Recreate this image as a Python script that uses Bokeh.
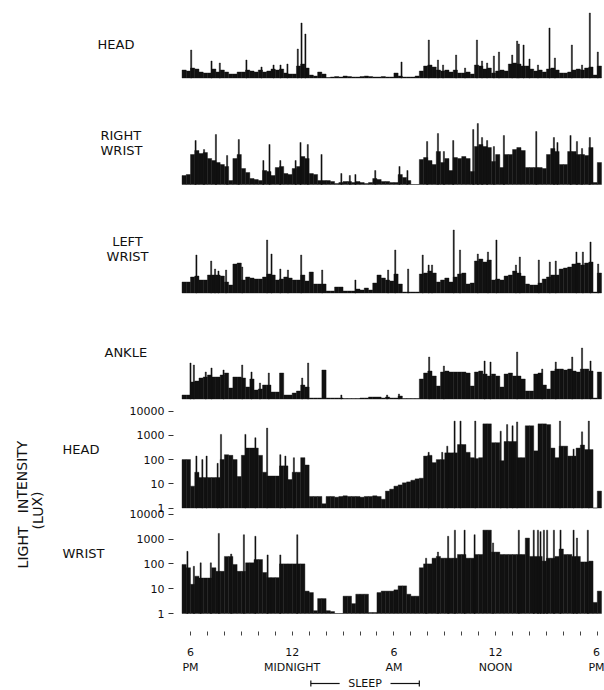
from bokeh.plotting import figure
from bokeh.models import Range1d, LogScale, LogAxis, LinearAxis, FixedTicker, NumeralTickFormatter
from bokeh.core.properties import value
from bokeh.embed import file_html
from bokeh.resources import INLINE

# ---------------- data (hours after 6 PM; 15-minute bins starting at -0.5 h) ----------------
BIN_START_H = -0.5
BIN_WIDTH_H = 0.25

# activity (arbitrary units)
head_activity = [
    8, 7, 10, 9, 6, 5, 5, 9, 6, 8,
    6, 4, 4, 6, 6, 8, 7, 6, 8, 6,
    7, 9, 8, 9, 5, 4, 4, 12, 14, 10,
    3, 2, 6, 4, 0.5, 1, 1.5, 1, 2, 1.5,
    1, 1, 1.5, 2, 1.5, 1, 1, 1.5, 1, 1,
    5, 2, 1, 1, 1, 2, 7, 12, 13, 11,
    8, 7, 8, 6, 8, 5, 5, 6, 4, 13,
    12, 9, 10, 5, 7, 8, 7, 14, 15, 14,
    12, 12, 9, 7, 8, 6, 9, 10, 8, 5,
    5, 6, 8, 9, 8, 10, 11, 3, 12]
head_spike_t = [0.04, 1.24, 1.73, 3.3, 4.19, 4.9, 5.31, 5.72, 6.33, 6.55, 6.78, 12.45, 14.06, 14.6,
                14.9, 15.67, 16.2, 16.9, 17.2, 17.5, 17.9, 18.2, 18.98, 19.27, 19.37, 19.65, 20.0,
                20.5, 21.18, 21.5, 22.5, 23.1, 23.56, 24.03]
head_spike_v = [28, 17, 15, 18, 11, 13, 13, 14, 29, 55, 44, 16, 38, 18,
                13, 23, 10, 38, 17, 15, 22, 26, 23, 37, 34, 33, 19,
                13, 50, 20, 33, 13, 65, 26]

rwrist_activity = [
    9, 10, 30, 34, 31, 32, 26, 24, 22, 20,
    18, 4, 26, 30, 16, 12, 6, 5, 4, 14,
    13, 9, 17, 18, 11, 10, 16, 18, 28, 26,
    11, 10, 4, 4, 4, 3, 1, 2, 3, 3,
    2, 3, 2, 1, 2, 6, 5, 3, 3, 2,
    2, 10, 7, 4, 0, 0, 25, 27, 24, 20,
    33, 22, 26, 14, 27, 26, 28, 26, 13, 38,
    40, 38, 37, 23, 30, 17, 30, 30, 35, 37,
    34, 17, 17, 17, 17, 16, 30, 36, 33, 20,
    20, 33, 33, 30, 30, 29, 37, 2, 22]
rwrist_spike_t = [0.3, 0.8, 1.5, 2.16, 2.85, 4.3, 4.66, 5.3, 6.2, 6.49, 6.92, 7.73, 8.9, 9.4, 9.73,
                  10.9, 12.33, 12.8, 13.96, 14.6, 14.95, 15.5, 16.68, 16.95, 17.2, 17.5, 17.9,
                  18.49, 20.4, 21.44, 21.65, 22.42, 22.8, 23.1, 23.56]
rwrist_spike_v = [44, 35, 50, 29, 45, 24, 40, 24, 24, 42, 40, 30, 11, 9, 10,
                  14, 18, 14, 43, 51, 33, 44, 55, 61, 47, 44, 38,
                  49, 53, 47, 42, 49, 43, 36, 47]

lwrist_activity = [
    11, 11, 16, 17, 13, 13, 18, 18, 18, 17,
    11, 8, 29, 30, 13, 16, 15, 14, 14, 16,
    19, 18, 13, 14, 16, 15, 13, 13, 18, 12,
    21, 9, 9, 9, 2, 2, 6, 6, 2, 2,
    2, 4, 3, 5, 3, 10, 18, 15, 13, 12,
    19, 9, 1, 1, 1, 1, 19, 20, 22, 20,
    11, 13, 15, 11, 16, 19, 20, 9, 10, 32,
    34, 31, 33, 13, 14, 13, 17, 18, 22, 20,
    17, 9, 8, 8, 10, 14, 16, 18, 18, 24,
    25, 26, 29, 30, 28, 30, 31, 1, 20]
lwrist_spike_t = [0.35, 1.22, 1.45, 1.65, 2.1, 3.05, 4.52, 4.78, 5.3, 5.75, 6.53, 7.77, 9.73,
                  11.66, 12.08, 12.84, 13.7, 14.05, 14.25, 15.53, 15.9, 16.95, 17.55, 18.05,
                  19.2, 19.43, 20.55, 21.2, 21.55, 22.77, 23.15, 23.6, 24.05]
lwrist_spike_v = [38, 32, 24, 22, 23, 26, 53, 39, 24, 23, 38, 23, 13,
                  23, 43, 24, 38, 28, 28, 63, 43, 39, 41, 53,
                  28, 36, 33, 31, 32, 41, 41, 51, 29]

ankle_activity = [
    4, 4, 17, 18, 21, 22, 24, 22, 22, 24,
    26, 11, 22, 22, 21, 12, 20, 9, 10, 14,
    14, 7, 7, 26, 4, 4, 6, 8, 14, 12,
    1, 1, 1, 29, 1, 1, 1, 1, 0.5, 0.5,
    0.5, 0.5, 1, 1, 2, 2, 2, 1, 2, 1,
    1, 3, 0.5, 0.5, 0.5, 0.5, 20, 26, 28, 23,
    13, 27, 28, 27, 27, 27, 27, 26, 13, 27,
    28, 25, 23, 25, 23, 12, 25, 26, 23, 23,
    20, 8, 8, 25, 26, 14, 10, 28, 30, 30,
    29, 30, 28, 27, 30, 30, 28, 1, 27]
ankle_spike_t = [0.0, 0.2, 0.9, 1.24, 1.95, 3.05, 3.6, 4.1, 4.62, 6.59, 6.94, 8.9, 11.6, 12.3,
                 14.08, 14.95, 17.35, 17.7, 19.27, 20.75, 21.55, 22.52, 23.1, 23.6]
ankle_spike_v = [36, 34, 27, 31, 29, 34, 27, 16, 26, 21, 36, 4, 4, 5,
                 42, 33, 38, 37, 47, 30, 37, 42, 51, 38]

# light intensity (lux)
head_lux = [
    100, 100, 8, 30, 18, 18, 18, 18, 18, 100,
    160, 150, 100, 20, 150, 300, 300, 300, 150, 30,
    21, 21, 21, 55, 55, 15, 30, 30, 120, 60,
    3, 3, 3, 1.5, 3, 3, 2.8, 3, 3.2, 3,
    3, 3, 2.8, 3, 3, 3.2, 3, 2.3, 5, 6,
    8, 9, 11, 12, 14, 16, 17, 140, 150, 75,
    100, 100, 190, 190, 190, 420, 420, 200, 120, 110,
    120, 3000, 3000, 500, 500, 90, 560, 560, 560, 120,
    120, 2500, 2500, 230, 3000, 3000, 2800, 300, 120, 360,
    360, 140, 140, 300, 400, 260, 260, 1, 5]
head_lux_spike_t = [0.35, 0.7, 0.95, 1.6, 1.8, 3.24, 3.83, 4.52, 5.3, 5.6, 6.1, 14.05, 14.85,
                    15.15, 15.58, 15.93, 16.8, 18.3, 18.68, 19.0, 19.27, 21.8, 22.6, 23.1, 23.5]
head_lux_spike_v = [140, 100, 140, 70, 1100, 1100, 800, 2000, 160, 140, 120, 200, 200,
                    360, 3900, 3900, 3900, 1500, 2800, 2500, 3600, 3900, 270, 1400, 3900]

wrist_lux = [
    95, 70, 15, 32, 27, 27, 27, 70, 50, 50,
    200, 200, 95, 50, 50, 110, 110, 150, 150, 45,
    28, 28, 28, 100, 100, 100, 100, 100, 100, 8,
    7, 1.3, 4, 4, 1.3, 1.2, 1, 1, 5, 5,
    2.5, 6, 6, 6, 1.1, 1.1, 7, 8, 8, 8,
    9, 13, 13, 6, 5, 5, 70, 100, 100, 170,
    200, 170, 170, 170, 170, 240, 240, 170, 170, 240,
    240, 2300, 2300, 300, 300, 240, 240, 240, 240, 240,
    240, 1100, 200, 200, 200, 130, 170, 170, 200, 400,
    240, 240, 200, 200, 120, 120, 130, 2.8, 8]
wrist_lux_spike_t = [-0.18, 0.2, 0.6, 1.2, 1.67, 2.4, 3.15, 3.83, 4.55, 5.3, 6.3, 13.9, 14.6, 15.2,
                     15.6, 16.17, 16.76, 17.85, 19.37, 20.25, 20.5, 20.65, 20.85, 21.04, 21.44,
                     21.83, 22.6, 22.8, 23.44]
wrist_lux_spike_v = [320, 80, 110, 110, 1700, 250, 1500, 1300, 230, 230, 1500, 170, 300, 1300,
                     2300, 2300, 1500, 700, 2300, 2300, 2300, 2000, 2300, 2300, 2300,
                     2300, 2300, 1100, 2300]

lux_ticks = [1, 10, 100, 1000, 10000]
time_ticks = list(range(0, 25))
time_tick_labels = ["6\nPM", "", "", "", "", "", "12\nMIDNIGHT", "", "", "", "", "",
                    "6\nAM", "", "", "", "", "", "12\nNOON", "", "", "", "", "", "6\nPM"]
sleep_start_h, sleep_end_h = 7.1, 13.5

# ---------------- layout constants ----------------
W, H = 604, 690
X0_PX = 190.0          # pixel position of 6 PM
PX_PER_H = 16.95
FONT = "DejaVu Sans"
INK = "#111111"
NBSP = "\u00a0"


def bin_x(n):
    return [BIN_START_H + BIN_WIDTH_H * (i + 0.5) for i in range(n)]


p = figure(width=W, height=H, output_backend="svg", toolbar_location=None,
           x_range=Range1d(-X0_PX / PX_PER_H, (W - X0_PX) / PX_PER_H),
           y_range=Range1d(H, 0),
           x_axis_location=None, y_axis_location=None, min_border=0)
p.outline_line_color = None
p.grid.visible = False
p.background_fill_color = "white"
p.border_fill_color = "white"

act_panels = [
    ("head_act", 77.5, head_activity, head_spike_t, head_spike_v),
    ("rwrist_act", 184.0, rwrist_activity, rwrist_spike_t, rwrist_spike_v),
    ("lwrist_act", 292.5, lwrist_activity, lwrist_spike_t, lwrist_spike_v),
    ("ankle_act", 398.5, ankle_activity, ankle_spike_t, ankle_spike_v),
]
log_panels = [
    ("head_lux", 507.5, 24.2, head_lux, head_lux_spike_t, head_lux_spike_v),
    ("wrist_lux", 613.0, 24.8, wrist_lux, wrist_lux_spike_t, wrist_lux_spike_v),
]

ranges, scales = {}, {}
for name, base, *_ in act_panels:
    ranges[name] = Range1d(base - H, base)
for name, base, dec, *_ in log_panels:
    ranges[name] = Range1d(10 ** ((base - H) / dec), 10 ** (base / dec))
    scales[name] = LogScale()
p.extra_y_ranges = ranges
p.extra_y_scales = scales

for name, base, lv, st, sv in act_panels:
    p.vbar(x=bin_x(len(lv)), width=BIN_WIDTH_H, top=lv, bottom=0, y_range_name=name,
           fill_color=INK, line_color=INK, line_width=0.4)
    p.vbar(x=st, width=0.07, top=sv, bottom=0, y_range_name=name,
           fill_color=INK, line_color=INK, line_width=0.4)

for name, base, dec, lv, st, sv in log_panels:
    p.vbar(x=bin_x(len(lv)), width=BIN_WIDTH_H, top=lv, bottom=1, y_range_name=name,
           fill_color=INK, line_color=INK, line_width=0.4)
    p.vbar(x=st, width=0.07, top=sv, bottom=1, y_range_name=name,
           fill_color=INK, line_color=INK, line_width=0.4)
    ax = LogAxis(y_range_name=name, fixed_location=(173 - X0_PX) / PX_PER_H,
                 ticker=FixedTicker(ticks=lux_ticks), formatter=NumeralTickFormatter(format="0"),
                 axis_line_color=None, major_tick_out=5, major_tick_in=0,
                 major_tick_line_color="#333333", minor_tick_line_color=None,
                 major_label_standoff=4, major_label_text_font=FONT,
                 major_label_text_font_size="11px", major_label_text_color=INK)
    p.add_layout(ax, "left")

# time axis
tax = LinearAxis(fixed_location=633, ticker=FixedTicker(ticks=time_ticks),
                 major_label_overrides={t: lab for t, lab in zip(time_ticks, time_tick_labels)},
                 axis_line_color=None, major_tick_in=2, major_tick_out=2,
                 major_tick_line_color="#444444", minor_tick_line_color=None,
                 major_label_standoff=10, major_label_text_font=FONT,
                 major_label_text_font_size="11px", major_label_text_color=INK)
p.add_layout(tax, "below")


def hx(px):
    return (px - X0_PX) / PX_PER_H


txt = dict(text_font=value(FONT), text_font_size="13px", text_color=INK, text_baseline="middle")
p.text(x=[hx(97), hx(100), hx(104), hx(62), hx(62)], y=[44, 142, 352, 449, 553],
       text=["HEAD", "RIGHT\nWRIST", "ANKLE", "HEAD", "WRIST"], text_align="left",
       text_line_height=1.0, **txt)
p.text(x=[hx(127)], y=[248], text=["LEFT\nWRIST"], text_align="center", text_line_height=1.0, **txt)
p.text(x=[hx(22), hx(37)], y=[504, 510],
       text=["LIGHT" + NBSP * 3 + "INTENSITY", "(LUX)"], angle=1.5708,
       text_align="center", text_font=value(FONT), text_font_size="14px", text_color=INK,
       text_baseline="middle")

# sleep bar
SLEEP_Y = 683
mid = (sleep_start_h + sleep_end_h) / 2
gap = 1.5
p.segment(x0=[sleep_start_h, mid + gap, sleep_start_h, sleep_end_h],
          x1=[mid - gap, sleep_end_h, sleep_start_h, sleep_end_h],
          y0=[SLEEP_Y, SLEEP_Y, SLEEP_Y - 3, SLEEP_Y - 3],
          y1=[SLEEP_Y, SLEEP_Y, SLEEP_Y + 3, SLEEP_Y + 3], line_color=INK, line_width=1.2)
p.text(x=[mid], y=[SLEEP_Y], text=["SLEEP"], text_align="center", text_baseline="middle",
       text_font=value(FONT), text_font_size="11px", text_color=INK)

open("out.html", "w").write(file_html(p, INLINE))
